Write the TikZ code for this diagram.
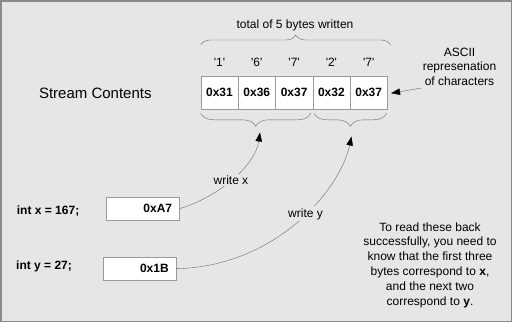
\documentclass[tikz,border=0pt]{standalone}
\usepackage{fontspec}
\setmainfont{Liberation Sans}
\usetikzlibrary{positioning,arrows.meta,calc,decorations.pathreplacing}
\definecolor{bggray}{HTML}{E6E6E6}
\definecolor{framegray}{HTML}{8A8A8A}
\definecolor{boxgray}{HTML}{9A9A9A}
\definecolor{linegray}{HTML}{6A6A6A}

\begin{document}
\begin{tikzpicture}[x=1pt, y=-1pt,
  every node/.style={font=\fontsize{12}{14.8}\selectfont, inner sep=0pt},
  cell/.style  ={draw=boxgray, fill=white, minimum width=37.3pt, minimum height=33.3pt,
                 font=\fontsize{12}{14}\selectfont\bfseries},
  valbox/.style={draw=boxgray, fill=white, text width=58.5pt, inner xsep=7pt,
                 minimum height=22.7pt, align=right, font=\fontsize{12}{14}\selectfont\bfseries},
  decl/.style  ={anchor=west, font=\fontsize{12}{14}\selectfont\bfseries},
  brc/.style   ={draw=linegray, thin, decorate, decoration={brace, amplitude=#1}},
  arr/.style   ={draw=linegray, thin, -{Triangle[length=9pt, width=6.5pt, color=black]}},
  lbl/.style   ={fill=bggray, inner sep=2pt}]

%% ── Background and frame ─────────────────────────────────────────
\useasboundingbox (0,0) rectangle (512,322);
\fill[bggray] (0,0) rectangle (512,322);
\draw[framegray, line width=1.5pt] (0.75,0.75) rectangle (511.25,321.25);

%% ── Stream cells and the characters above them ───────────────────
\node[font=\fontsize{15}{18}\selectfont] (title) at (95.3,93.3) {Stream Contents};
\foreach \v/\ch [count=\i] in {31/1, 36/6, 37/7, 32/2, 37/7} {
  \node[cell] (c\i) at ({182.2+37.3*\i},92.7) {0x\v};
  \node (ch\i) at ($(c\i)+(0,-30)$) {\textquotesingle\ch\textquotesingle};
}

%% ── Braces ───────────────────────────────────────────────────────
\node (total) at (295,25) {total of 5 bytes written};
\draw[brc=10pt]   (200.7,45) -- (390.7,45);
\draw[brc=13pt]   (310.7,113.3) -- (200.7,113.3);
\draw[brc=13pt]   (386.7,113.3) -- (314.0,113.3);
\coordinate (tipx) at (260,132.5);
\coordinate (tipy) at (351.5,136.5);

%% ── ASCII note ───────────────────────────────────────────────────
\node[align=center] (ascii) at (459.5,66.7) {ASCII\\represenation\\of characters};
\coordinate (asc) at (421.5,88);
\draw[arr] (asc) -- ($(c5.east)+(3.5,0.5)$);

%% ── Variables and their values ───────────────────────────────────
\node[decl] (declx) at (16.7,211) {int x = 167;};
\node[decl] (decly) at (16.0,266) {int y = 27;};
\node[valbox] (vx) at (142.9,208.7) {0xA7};
\node[valbox] (vy) at (139.5,268.7) {0x1B};

%% ── Write arrows ─────────────────────────────────────────────────
\draw[arr] (vx.east) .. controls +(35,-10) and +(-5,35) .. node[lbl, pos=0.5] {write x} (tipx);
\draw[arr] (vy.east) .. controls +(100,-2) and +(-11.5,53.5) .. node[lbl, pos=0.55] {write y} (tipy);

%% ── Note on reading back ─────────────────────────────────────────
\node[align=center] (note) at (430,265)
  {To read these back\\successfully, you need to\\know that the first three\\bytes correspond to \textbf{x},\\and the next two\\correspond to \textbf{y}.};
\end{tikzpicture}
\end{document}
